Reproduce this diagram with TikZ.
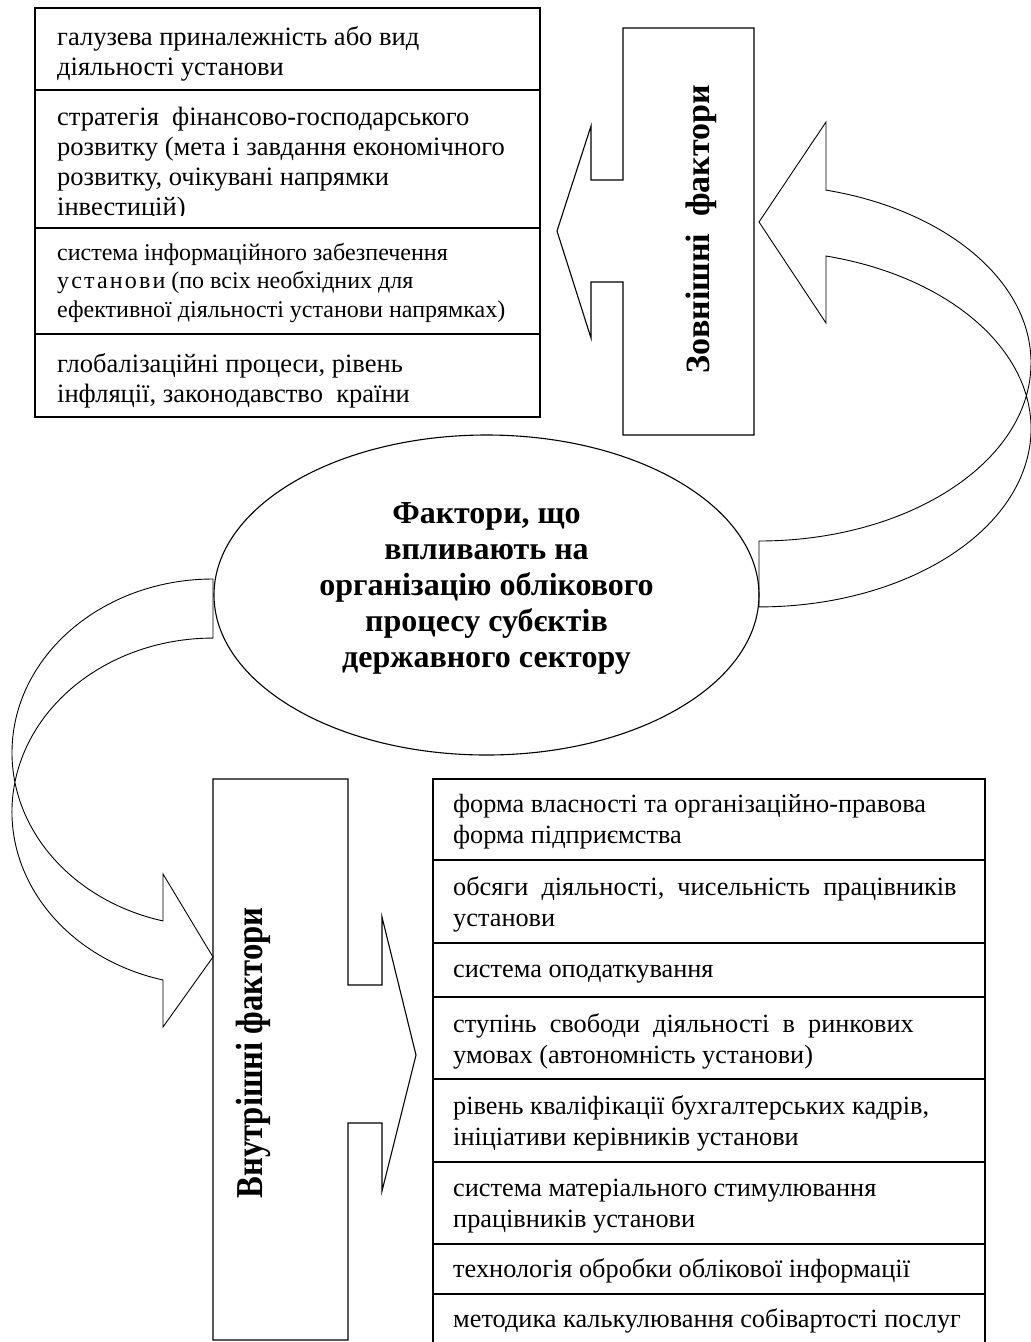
\documentclass[tikz,border=0pt]{standalone}
\usepackage{fontspec}
\setmainfont{Liberation Serif}
\newfontfamily\narrowserif[FakeStretch=0.86]{Liberation Serif}
\usetikzlibrary{shapes.geometric}
\tikzset{
  cell/.style={anchor=north west,align=left,inner sep=0pt,font=\fontsize{26.5}{30}\selectfont},
  lowcell/.style={cell,font=\fontsize{26.3}{31}\selectfont},
  frame/.style={line width=1.1pt},
  band/.style={line width=0.9pt},
  core/.style={draw,ellipse,line width=1.1pt,minimum width=545pt,minimum height=320pt,inner sep=0pt},
  title/.style={align=center,inner sep=0pt,font=\bfseries\fontsize{32}{36}\selectfont},
  side/.style={rotate=90,inner sep=0pt,font=\bfseries\fontsize{34}{40}\selectfont},
}
\begin{document}
\begin{tikzpicture}[x=1pt,y=-1pt]
\useasboundingbox (0,0) rectangle (1031,1342);
\draw[frame] (35,8) rectangle (540,417);
\foreach \yy in {90,228,334} \draw[frame] (35,\yy)--(540,\yy);
\node[cell] (t1) at (57,24) {\strut галузева приналежність або вид\\діяльності установи};
\begin{scope}
\clip (35,90) rectangle (540,215);
\node[cell] (t2) at (57,104) {\strut стратегія\ \ фінансово-господарського\\розвитку (мета і завдання економічного\\розвитку, очікувані напрямки\\інвестицій)};
\end{scope}
\node[cell,font=\fontsize{24}{28.5}\selectfont] (t3) at (57,240) {\strut система інформаційного забезпечення\\{\addfontfeature{LetterSpace=9}установи} (по всіх необхідних для\\ефективної діяльності установи напрямках)};
\node[cell] (t4) at (57,351) {\strut глобалізаційні процеси, рівень\\інфляції, законодавство\ \ країни};

\draw[frame] (754,28) -- (623,28) -- (623,180) -- (591,180) -- (591,126) -- (557,231) -- (591,338) -- (591,282) -- (623,282) -- (623,435) -- (754,435) -- cycle;
\node[side] (zovn) at (701,229) {Зовнішні\ \ фактори};

\node[core] (core) at (486.5,595) {};
\node[title] (corelbl) at (486.5,588) {Фактори, що\\впливають на\\організацію облікового\\процесу субєктів\\державного сектору};

\draw[band] (759,541) arc[start angle=90,end angle=-75.74,x radius=272,y radius=178.2] -- (826,122) -- (759,222) -- (826,323) -- (826,256) arc[start angle=-75.74,end angle=90,x radius=272,y radius=178.2] -- cycle;
\draw[band] (213,579) arc[start angle=270,end angle=104.4,x radius=201,y radius=173.7] -- (163,874) -- (213,957) -- (163,1027) -- (163,980) arc[start angle=104.4,end angle=270,x radius=201,y radius=173.7] -- cycle;

\draw[frame] (213,779) -- (348,779) -- (348,985) -- (382,985) -- (382,917) -- (416,1055) -- (382,1191) -- (382,1123) -- (348,1123) -- (348,1340) -- (213,1340) -- cycle;
\node[side,font=\narrowserif\bfseries\fontsize{38}{44}\selectfont] (vnutr) at (253,1053) {Внутрішні фактори};

\draw[frame] (433,1345) -- (433,779) -- (985,779) -- (985,1345);
\foreach \yy in {860,943,997,1079,1162,1244,1294} \draw[frame] (433,\yy)--(985,\yy);
\node[lowcell] (b1) at (453,791) {\strut форма власності та організаційно-правова\\форма підприємства};
\node[lowcell] (b2) at (453,874) {\strut обсяги\ \ діяльності,\ \ чисельність\ \ працівників\\установи};
\node[lowcell] (b3) at (453,956) {\strut система оподаткування};
\node[lowcell] (b4) at (453,1011) {\strut ступінь\ \ свободи\ \ діяльності\ \ в\ \ ринкових\\умовах (автономність установи)};
\node[lowcell] (b5) at (453,1093) {\strut рівень кваліфікації бухгалтерських кадрів,\\ініціативи керівників установи};
\node[lowcell] (b6) at (453,1175) {\strut система матеріального стимулювання\\працівників установи};
\node[lowcell] (b7) at (453,1256) {\strut технологія обробки облікової інформації};
\node[lowcell] (b8) at (453,1306) {\strut методика калькулювання собівартості послуг};
\end{tikzpicture}
\end{document}
